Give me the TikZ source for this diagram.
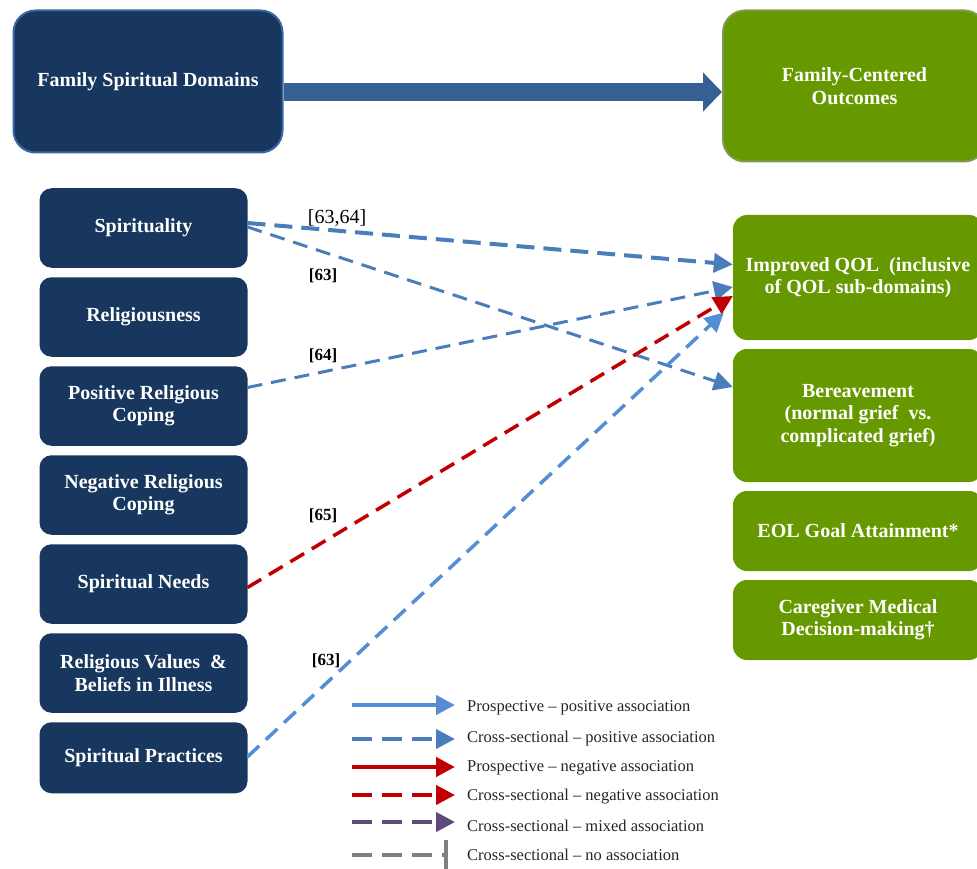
\documentclass[tikz,border=0pt]{standalone}
\usepackage{fontspec}
\setmainfont{Liberation Serif}
\usepackage{tikz}
\usetikzlibrary{arrows.meta,positioning}
\definecolor{domnavy}{HTML}{17375E}
\definecolor{domedge}{HTML}{3A679E}
\definecolor{outgreen}{HTML}{669900}
\definecolor{outedge}{HTML}{7F9A50}
\definecolor{bigblue}{HTML}{376092}
\definecolor{csblue}{HTML}{4A7EBB}
\definecolor{problue}{HTML}{558ED5}
\definecolor{negred}{HTML}{C00000}
\definecolor{mixpurple}{HTML}{604A7B}
\definecolor{nogray}{HTML}{7F7F7F}

\begin{document}
\begin{tikzpicture}[x=1pt,y=-1pt,
  boxfont/.style={font=\fontsize{20}{22.5}\selectfont\bfseries},
  dombox/.style={boxfont, fill=domnavy, text=white, rounded corners=12pt,
    minimum width=208pt, minimum height=79.5pt, align=center, inner sep=2pt, outer sep=0pt},
  outbox/.style={boxfont, fill=outgreen, text=white, rounded corners=14pt,
    minimum width=250pt, align=center, inner sep=2pt},
  reflabel/.style={font=\fontsize{17}{19}\selectfont\bfseries},
  legtext/.style={anchor=west, font=\fontsize{16.5}{18}\selectfont, text=black!85, inner sep=0pt},
  tip/.style={-{Triangle[length=19pt,width=19pt]}},
  csline/.style={tip, dash pattern=on 15pt off 9pt, line width=3pt},
  legdash/.style={dash pattern=on 20pt off 10pt, line width=4pt},
]
\clip (0,0) rectangle (977,869);

% header boxes
\node[boxfont, fill=domnavy, draw=domedge, line width=2pt, text=white, rounded corners=22pt,
  minimum width=269pt, minimum height=142pt] (fsd) at (148,81.5) {Family Spiritual Domains};
\node[boxfont, fill=outgreen, draw=outedge, line width=2pt, text=white, rounded corners=22pt,
  minimum width=263pt, minimum height=151pt, align=center] (fco) at (854.5,86)
  {Family-Centered\\Outcomes};
\coordinate[yshift=-10.5pt] (bigstart) at (fsd.east);
\draw[bigblue, line width=18pt, -{Triangle[length=19pt,width=38pt]}]
  (bigstart) -- (bigstart -| fco.west);

% spiritual domains
\node[dombox] (spi) at (143.5,228) {Spirituality};
\node[dombox, below=9.5pt of spi] (rel) {Religiousness};
\node[dombox, below=9.5pt of rel] (prc) {Positive Religious\\Coping};
\node[dombox, below=9.5pt of prc] (nrc) {Negative Religious\\Coping};
\node[dombox, below=9.5pt of nrc] (sne) {Spiritual Needs};
\node[dombox, below=9.5pt of sne] (rvb) {Religious Values\ \ \&\\Beliefs in Illness};
\node[dombox, minimum height=71pt, below=9.5pt of rvb] (spr) {Spiritual Practices};

% outcomes
\node[outbox, minimum height=125pt] (qol) at (858,277.5) {Improved QOL\ \ (inclusive\\of QOL sub-domains)};
\node[outbox, minimum height=133pt] (ber) at (858,415.5) {Bereavement\\(normal grief\ \ vs.\\complicated grief)};
\node[outbox, minimum height=80pt] (eol) at (858,531) {EOL Goal Attainment*};
\node[outbox, minimum height=80pt] (cmd) at (858,620) {Caregiver Medical\\Decision-making†};

% associations
\draw[csblue, csline, line width=4pt, dash pattern=on 18pt off 9pt]
  ([yshift=5pt]spi.east) -- ([yshift=13pt]qol.west);
\draw[csblue, csline] ([yshift=1pt]spi.east) -- ([yshift=28.5pt]ber.west);
\draw[csblue, csline] ([yshift=18.5pt]prc.east) -- ([yshift=-9.5pt]qol.west);
\draw[negred, csline, line width=3.5pt, dash pattern=on 16pt off 9pt]
  ([yshift=-3.5pt]sne.east) -- ([yshift=-18.5pt]qol.west);
\draw[problue, csline, line width=3.5pt, dash pattern=on 16pt off 9pt]
  ([yshift=1pt]spr.east) -- ([xshift=-9pt,yshift=-35pt]qol.west);

\node[font=\fontsize{20}{22}\selectfont] (r1) at (337,218) {[63,64]};
\node[reflabel] (r2) at (323,276) {[63]};
\node[reflabel] (r3) at (323,356) {[64]};
\node[reflabel] (r4) at (323,516) {[65]};
\node[reflabel] (r5) at (326,661) {[63]};

% legend
\node[legtext] (lg1) at (467,708) {Prospective – positive association};
\node[legtext] (lg2) at (467,739) {Cross-sectional – positive association};
\node[legtext] (lg3) at (467,768) {Prospective – negative association};
\node[legtext] (lg4) at (467,797) {Cross-sectional – negative association};
\node[legtext] (lg5) at (467,826) {Cross-sectional – mixed association};
\node[legtext] (lg6) at (467,855) {Cross-sectional – no association};
\coordinate (ls1) at (352,705); \coordinate (le1) at (455,705);
\coordinate (ls2) at (352,739); \coordinate (le2) at (455,739);
\coordinate (ls3) at (352,767); \coordinate (le3) at (455,767);
\coordinate (ls4) at (352,795); \coordinate (le4) at (455,795);
\coordinate (ls5) at (352,822); \coordinate (le5) at (455,822);
\coordinate (ls6) at (352,855); \coordinate (le6) at (448,855);
\draw[problue, tip, line width=4.5pt] (ls1) -- (le1);
\draw[csblue, tip, legdash] (ls2) -- (le2);
\draw[negred, tip, line width=4.5pt] (ls3) -- (le3);
\draw[negred, tip, legdash] (ls4) -- (le4);
\draw[mixpurple, tip, legdash] (ls5) -- (le5);
\draw[nogray, legdash, -{Bar[width=30pt,line width=4pt]}] (ls6) -- (le6);
\end{tikzpicture}
\end{document}
